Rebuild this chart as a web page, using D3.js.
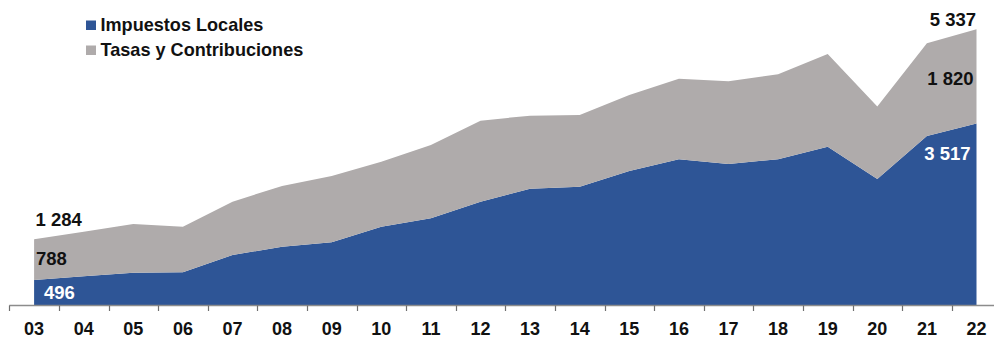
<!DOCTYPE html>
<html>
<head>
<meta charset="utf-8">
<script src="https://cdn.jsdelivr.net/npm/d3@7/dist/d3.min.js"></script>
<style>
  html, body { margin: 0; padding: 0; background: #fff; }
  svg { display: block; font-family: "Liberation Sans", Arial, sans-serif; }
</style>
</head>
<body>
<svg id="chart" width="994" height="338"></svg>
<script>
// Years (two-digit labels) and the two stacked series
const years = ["03","04","05","06","07","08","09","10","11","12","13","14","15","16","17","18","19","20","21","22"];
const impuestosLocales = [496, 569, 639, 646, 980, 1141, 1225, 1527, 1689, 2009, 2260, 2299, 2602, 2827, 2737, 2827, 3071, 2447, 3277, 3517];
const tasasContribuciones = [788, 861, 940, 881, 1029, 1171, 1280, 1254, 1414, 1563, 1409, 1383, 1466, 1556, 1596, 1641, 1789, 1396, 1789, 1820];
const seriesNames = ["Impuestos Locales", "Tasas y Contribuciones"];
const seriesColors = ["#2E5596", "#AFABAB"];

const svg = d3.select("#chart");

const rows = years.map((y, i) => ({
  year: y,
  "Impuestos Locales": impuestosLocales[i],
  "Tasas y Contribuciones": tasasContribuciones[i]
}));

const x = d3.scaleBand().domain(years).range([9.3, 1001.3]).padding(0);
const y = d3.scaleLinear().domain([0, 5900]).range([305.8, 0]);
const cx = d => x(d) + x.bandwidth() / 2;

const stacked = d3.stack().keys(seriesNames)(rows);

const area = d3.area()
  .x(d => cx(d.data.year))
  .y0(d => y(d[0]))
  .y1(d => y(d[1]));

svg.append("g").selectAll("path")
  .data(stacked)
  .join("path")
  .attr("d", area)
  .attr("fill", (d, i) => seriesColors[i]);

// Category axis: ticks on the band boundaries, labels centred in each band
const axisG = svg.append("g");
axisG.append("line")
  .attr("x1", x.range()[0]).attr("x2", 994)
  .attr("y1", 305.5).attr("y2", 305.5)
  .attr("stroke", "#8c8c8c").attr("stroke-width", 1.3);
axisG.selectAll("line.tick")
  .data(years)
  .join("line")
  .attr("class", "tick")
  .attr("x1", d => Math.round(x(d)) + 0.5).attr("x2", d => Math.round(x(d)) + 0.5)
  .attr("y1", 305.5).attr("y2", 311)
  .attr("stroke", "#6f6f6f").attr("stroke-width", 1.2);
axisG.selectAll("text")
  .data(years)
  .join("text")
  .attr("x", d => cx(d))
  .attr("y", 335)
  .attr("text-anchor", "middle")
  .attr("font-size", 18)
  .attr("font-weight", "bold")
  .attr("fill", "#111")
  .text(d => d);

// Value labels at the first and last year
const fmt = v => d3.format(",")(v).replace(/,/g, " ");
const first = 0, last = years.length - 1;
const labels = [
  { t: fmt(impuestosLocales[first] + tasasContribuciones[first]), x: 35.5, y: 226, anchor: "start", fill: "#111" },
  { t: fmt(tasasContribuciones[first]), x: 36, y: 265, anchor: "start", fill: "#111" },
  { t: fmt(impuestosLocales[first]), x: 44, y: 299, anchor: "start", fill: "#fff" },
  { t: fmt(impuestosLocales[last] + tasasContribuciones[last]), x: 976, y: 26, anchor: "end", fill: "#111" },
  { t: fmt(tasasContribuciones[last]), x: 973.5, y: 85, anchor: "end", fill: "#111" },
  { t: fmt(impuestosLocales[last]), x: 970.5, y: 160, anchor: "end", fill: "#fff" }
];
svg.append("g").selectAll("text")
  .data(labels)
  .join("text")
  .attr("x", d => d.x)
  .attr("y", d => d.y)
  .attr("text-anchor", d => d.anchor)
  .attr("font-size", 18.5)
  .attr("font-weight", "bold")
  .attr("fill", d => d.fill)
  .text(d => d.t);

// Legend
const legend = svg.append("g").selectAll("g")
  .data(seriesNames)
  .join("g")
  .attr("transform", (d, i) => `translate(86, ${20.5 + i * 25})`);
legend.append("rect")
  .attr("width", 10).attr("height", 9.5)
  .attr("fill", (d, i) => seriesColors[i]);
legend.append("text")
  .attr("x", 14.5).attr("y", 10)
  .attr("font-size", 18.1)
  .attr("font-weight", "bold")
  .attr("fill", "#111")
  .text(d => d);
</script>
</body>
</html>
